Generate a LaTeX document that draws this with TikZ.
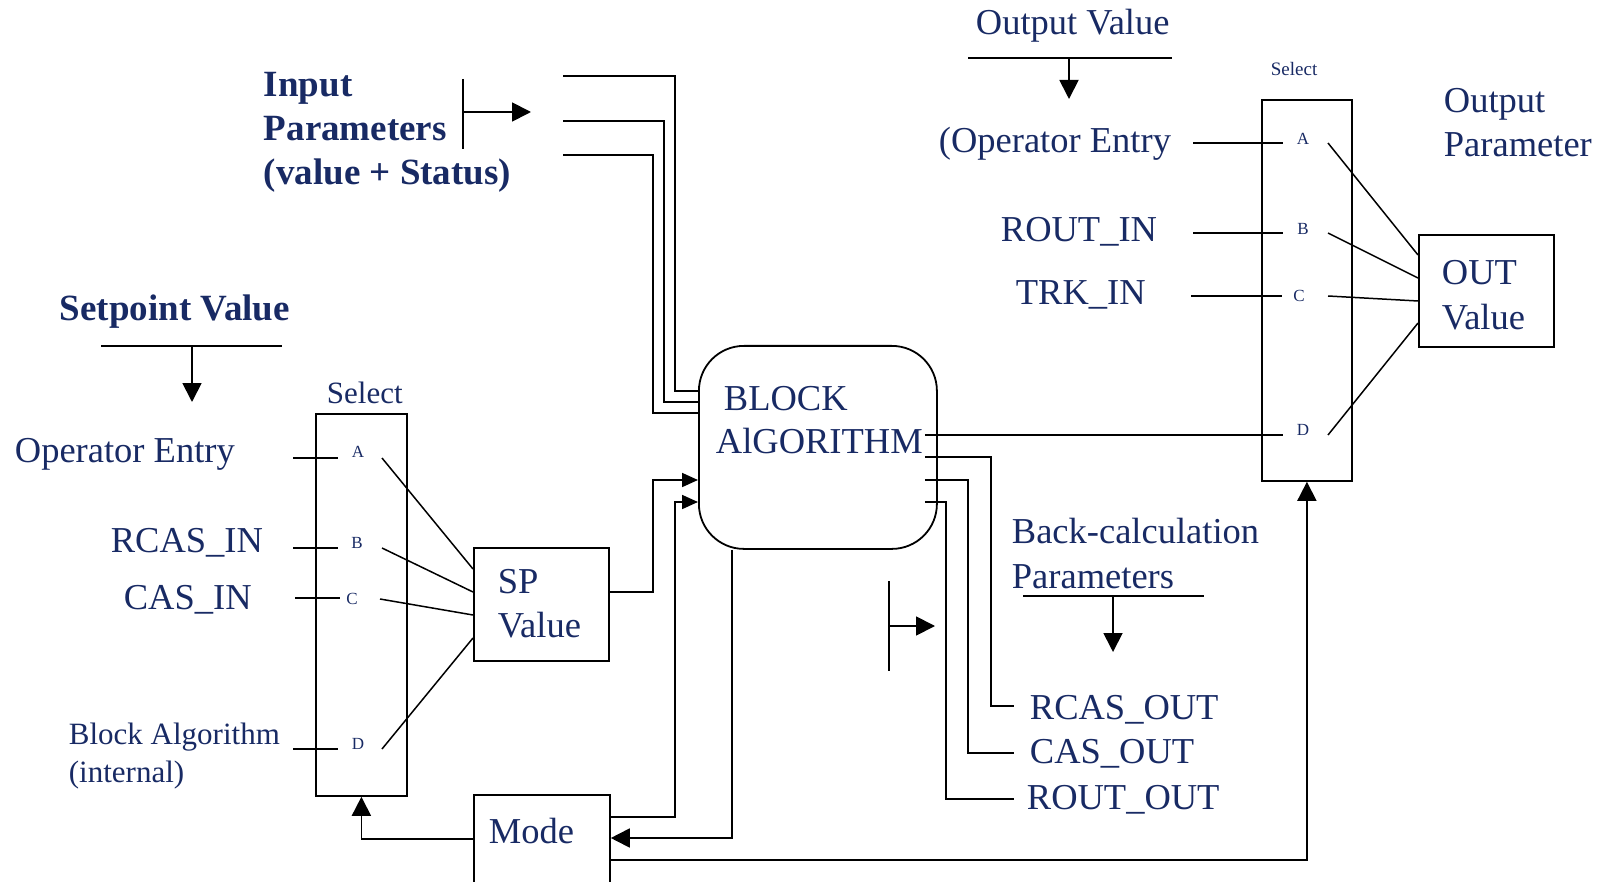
\documentclass[tikz,border=0pt]{standalone}
\usepackage{fontspec}
\setmainfont{Liberation Serif}
\usetikzlibrary{arrows.meta,calc}
\definecolor{navy}{RGB}{24,42,100}
\begin{document}
\begin{tikzpicture}[x=1pt,y=-1pt,line width=1.8pt,
  txt/.style={inner sep=0,anchor=base west,text=navy,font=\fontsize{36.5}{40}\selectfont},
  btxt/.style={inner sep=0,anchor=base west,text=navy,font=\fontsize{37}{40}\selectfont\bfseries},
  mtxt/.style={inner sep=0,anchor=base west,text=navy,font=\fontsize{31}{34}\selectfont},
  stxt/.style={inner sep=0,anchor=base west,text=navy,font=\fontsize{19}{22}\selectfont},
  letter/.style={inner sep=0,anchor=center,text=navy,font=\fontsize{17}{19}\selectfont},
  boxn/.style={draw,inner sep=0,anchor=north west},
  arr/.style={-{Triangle[length=19pt,width=19pt]}},
  sarr/.style={-{Triangle[length=16pt,width=14pt]}}]
\useasboundingbox (0,0) rectangle (1608,882);

% ---------- boxes ----------
\node[boxn,minimum width=91pt,minimum height=382pt] (spsel) at (315,413) {};
\node[boxn,minimum width=135pt,minimum height=113pt] (spv) at (473,547) {};
\node[boxn,minimum width=136pt,minimum height=110pt] (mode) at (473,794) {};
\node[boxn,rounded corners=45pt,minimum width=238pt,minimum height=203pt] (blk) at (698,345) {};
\node[boxn,minimum width=90pt,minimum height=381pt] (outsel) at (1261,99) {};
\node[boxn,minimum width=135pt,minimum height=112pt] (outv) at (1418,234) {};

% ---------- texts ----------
\node[btxt] (inp1) at (263,97) {Input};
\node[btxt] (inp2) at (263,141) {Parameters};
\node[btxt] (inp3) at (263,185) {(value + Status)};
\node[btxt] (setp) at (59,320) {Setpoint Value};
\node[txt] (opE) at (14,462) {Operator Entry};
\node[txt] (rcasin) at (110,552) {RCAS\_IN};
\node[txt] (casin) at (123,609) {CAS\_IN};
\node[mtxt] (balg1) at (68,744) {Block Algorithm};
\node[mtxt] (balg2) at (68,782) {(internal)};
\node[mtxt] (selL) at (326,403) {Select};
\node[txt] (spt1) at (497,593) {SP};
\node[txt] (spt2) at (497,637) {Value};
\node[txt] (modet) at (488,843) {Mode};
\node[txt] (blkt1) at (723,410) {BLOCK};
\node[txt] (blkt2) at (715,453) {AlGORITHM};
\node[txt] (bc1) at (1011,543) {Back-calculation};
\node[txt] (bc2) at (1011,588) {Parameters};
\node[txt] (rcasout) at (1029,719) {RCAS\_OUT};
\node[txt] (casout) at (1029,763) {CAS\_OUT};
\node[txt] (routout) at (1026,809) {ROUT\_OUT};
\node[txt] (outval) at (975,35) {Output Value};
\node[txt] (opE2) at (938,153) {(Operator Entry};
\node[txt] (routin) at (1000,242) {ROUT\_IN};
\node[txt] (trkin) at (1015,305) {TRK\_IN};
\node[stxt] (selR) at (1270,76) {Select};
\node[txt] (op1) at (1443,113) {Output};
\node[txt] (op2) at (1443,157) {Parameter};
\node[txt] (outt1) at (1441,285) {OUT};
\node[txt] (outt2) at (1441,330) {Value};

% selector letters
\node[letter] (sA) at (358,452) {A};
\node[letter] (sB) at (357,543) {B};
\node[letter] (sC) at (352,599) {C};
\node[letter] (sD) at (358,744) {D};
\node[letter] (oA) at (1303,139) {A};
\node[letter] (oB) at (1303,229) {B};
\node[letter] (oC) at (1299,296) {C};
\node[letter] (oD) at (1303,430) {D};

% ---------- free-end coordinates ----------
\coordinate (lA0) at (293,458); \coordinate (lA1) at (338,458); \coordinate (dA) at (382,458);
\coordinate (lB0) at (293,548); \coordinate (lB1) at (338,548); \coordinate (dB) at (382,548);
\coordinate (lC0) at (295,598); \coordinate (lC1) at (340,598); \coordinate (dC) at (380,599);
\coordinate (lD0) at (293,749); \coordinate (lD1) at (338,749); \coordinate (dD) at (382,749);

\coordinate (rA0) at (1193,143); \coordinate (rA1) at (1283,143); \coordinate (eA) at (1328,143);
\coordinate (rB0) at (1193,233); \coordinate (rB1) at (1283,233); \coordinate (eB) at (1328,233);
\coordinate (rC0) at (1191,296); \coordinate (rC1) at (1282,296); \coordinate (eC) at (1328,296);
\coordinate (rD1) at (1283,435); \coordinate (eD) at (1328,435);

\coordinate (ip1) at (563,76); \coordinate (ip2) at (563,121); \coordinate (ip3) at (563,155);

\coordinate (bar1a) at (463,79); \coordinate (bar1b) at (463,149);
\coordinate (bar1m) at (463,112); \coordinate (bar1e) at (531,112);
\coordinate (bar2a) at (889,581); \coordinate (bar2b) at (889,671);
\coordinate (bar2m) at (889,626); \coordinate (bar2e) at (935,626);

\coordinate (u1a) at (101,346); \coordinate (u1b) at (282,346);
\coordinate (u1m) at (192,346); \coordinate (u1e) at (192,402);
\coordinate (u2a) at (968,58); \coordinate (u2b) at (1172,58);
\coordinate (u2m) at (1069,58); \coordinate (u2e) at (1069,99);
\coordinate (u3a) at (1023,596); \coordinate (u3b) at (1204,596);
\coordinate (u3m) at (1113,596); \coordinate (u3e) at (1113,652);

\coordinate (ro1) at (1014,706); \coordinate (ro2) at (1014,753); \coordinate (ro3) at (1014,799);

% ---------- connectors ----------
% setpoint selector inputs
\draw (lA0) -- (lA1); \draw (lB0) -- (lB1); \draw (lC0) -- (lC1); \draw (lD0) -- (lD1);
\draw[line width=1.5pt] (dA) -- ($(spv.north west)+(0,22)$);
\draw[line width=1.5pt] (dB) -- ($(spv.north west)+(0,45)$);
\draw[line width=1.5pt] (dC) -- ($(spv.north west)+(0,68)$);
\draw[line width=1.5pt] (dD) -- ($(spv.north west)+(0,91)$);

% output selector inputs
\draw (rA0) -- (rA1); \draw (rB0) -- (rB1); \draw (rC0) -- (rC1);
\draw ($(blk.north east)+(-13,90)$) -- (rD1);
\draw[line width=1.5pt] (eA) -- ($(outv.north west)+(0,21)$);
\draw[line width=1.5pt] (eB) -- ($(outv.north west)+(0,44)$);
\draw[line width=1.5pt] (eC) -- ($(outv.north west)+(0,67)$);
\draw[line width=1.5pt] (eD) -- ($(outv.north west)+(0,89)$);

% input parameters into block
\draw (ip1) -| (675,391) -- ($(blk.north west)+(0,46)$);
\draw (ip2) -| (664,402) -- ($(blk.north west)+(0,57)$);
\draw (ip3) -| (653,413) -- ($(blk.north west)+(0,68)$);

% SP value into block
\draw[sarr] ($(spv.north east)+(0,45)$) -| (653,480) -- ($(blk.north west)+(0,135)$);
% mode into block
\draw[sarr] ($(mode.north east)+(0,23)$) -| (675,502) -- ($(blk.north west)+(0,157)$);
% block into mode
\draw[arr] ($(blk.south west)+(34,0)$) |- ($(mode.north east)+(0,44)$);
% mode to setpoint selector
\draw[arr] ($(mode.north west)+(0,45)$) -| (spsel.south);
% mode to output selector
\draw[arr] ($(mode.north east)+(0,66)$) -| (outsel.south);

% back-calculation outputs
\draw ($(blk.north east)+(-13,112)$) -| (991,706) -- (ro1);
\draw ($(blk.north east)+(-13,135)$) -| (968,753) -- (ro2);
\draw ($(blk.north east)+(-13,157)$) -| (946,799) -- (ro3);

% direction markers
\draw (bar1a) -- (bar1b); \draw[arr] (bar1m) -- (bar1e);
\draw (bar2a) -- (bar2b); \draw[arr] (bar2m) -- (bar2e);
\draw (u1a) -- (u1b); \draw[arr] (u1m) -- (u1e);
\draw (u2a) -- (u2b); \draw[arr] (u2m) -- (u2e);
\draw (u3a) -- (u3b); \draw[arr] (u3m) -- (u3e);
\end{tikzpicture}
\end{document}
